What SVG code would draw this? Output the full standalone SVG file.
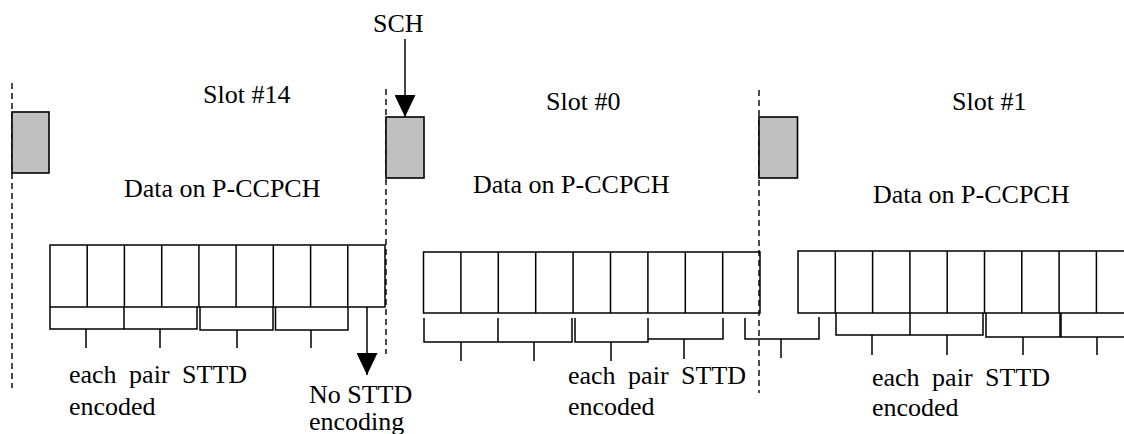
<svg xmlns="http://www.w3.org/2000/svg" width="1124" height="434" viewBox="0 0 1124 434">
<defs>
<style>
text{font-family:"Liberation Serif","Times New Roman",serif;font-size:26px;fill:#000}
.pair{word-spacing:6px}
.sch{fill:#c0c0c0;stroke:#000;stroke-width:1.6}
.cell{fill:none;stroke:#000;stroke-width:1.5}
.br{fill:none;stroke:#000;stroke-width:1.5}
.dash{stroke:#000;stroke-width:1.4;stroke-dasharray:6,4;fill:none}
.arr{stroke:#000;stroke-width:1.5;fill:none}
</style>
<marker id="ah" viewBox="0 0 22 21" refX="22" refY="10.5" markerWidth="22" markerHeight="21" markerUnits="userSpaceOnUse" orient="auto">
<path d="M0,0 L22,10.5 L0,21 Z" fill="#000"/>
</marker>
</defs>
<rect width="1124" height="434" fill="#fff"/>

<g id="slot-boundaries">
<line class="dash" x1="12" y1="83" x2="12" y2="388"/>
<line class="dash" x1="386" y1="89" x2="386" y2="354"/>
<line class="dash" x1="759" y1="90" x2="759" y2="393"/>
</g>

<g id="sch-box-14"><rect class="sch" x="12" y="112" width="37" height="61"/></g>
<g id="sch-box-0"><rect class="sch" x="386" y="117" width="38" height="61"/></g>
<g id="sch-box-1"><rect class="sch" x="759" y="117" width="38.5" height="61"/></g>

<g id="label-sch"><text x="373" y="32">SCH</text></g>

<g id="slot14">
<text x="203" y="103">Slot #14</text>
<text x="124" y="197">Data on P-CCPCH</text>
</g>
<g id="slot0">
<text x="546" y="110">Slot #0</text>
<text x="473" y="193">Data on P-CCPCH</text>
</g>
<g id="slot1">
<text x="952" y="110">Slot #1</text>
<text x="873" y="203">Data on P-CCPCH</text>
</g>

<g id="data-slot14">
<rect class="cell" x="50" y="245" width="335" height="62"/>
<path class="cell" d="M87.2,245V307M124.4,245V307M161.7,245V307M198.9,245V307M236.1,245V307M273.3,245V307M310.6,245V307M347.8,245V307"/>
</g>
<g id="data-slot0">
<rect class="cell" x="423.5" y="252" width="336.5" height="61"/>
<path class="cell" d="M460.9,252V313M498.3,252V313M535.7,252V313M573.1,252V313M610.5,252V313M647.9,252V313M685.3,252V313M722.7,252V313"/>
</g>
<g id="data-slot1">
<path class="cell" d="M1130,251H798V313H1130"/>
<path class="cell" d="M835.3,251V313M872.6,251V313M909.9,251V313M947.2,251V313M984.5,251V313M1021.8,251V313M1059.1,251V313M1096.4,251V313"/>
</g>

<g id="brackets-slot14">
<path class="br" d="M50,307V329H197V307M124,307V329"/>
<path class="br" d="M200,307V330H273V307"/>
<path class="br" d="M275.5,307V330H348V307"/>
<path class="br" d="M86,329V348M160,329V348M237,330V348M311,330V348"/>
</g>
<g id="brackets-slot0">
<path class="br" d="M424,318V342H572V318M498,318V342"/>
<path class="br" d="M575,318V342H648V318"/>
<path class="br" d="M648,339H723V318"/>
<path class="br" d="M461,342V361M534,342V361M611,342V361M684,339V359"/>
</g>
<g id="bracket-cross">
<path class="br" d="M745,318V339H819V317"/>
<path class="br" d="M781,339V358"/>
</g>
<g id="brackets-slot1">
<path class="br" d="M836,313V335H983V313M910,313V335"/>
<path class="br" d="M986,313V337H1060V313"/>
<path class="br" d="M1061,313V337H1130"/>
<path class="br" d="M872,335V355M947,335V355M1023,337V355M1097,337V355"/>
</g>

<g id="label-pair-14">
<text class="pair" x="69" y="383">each pair STTD</text>
<text x="69" y="415">encoded</text>
</g>
<g id="label-pair-0">
<text class="pair" x="568" y="384">each pair STTD</text>
<text x="568" y="415">encoded</text>
</g>
<g id="label-pair-1">
<text class="pair" x="872" y="386">each pair STTD</text>
<text x="872" y="416">encoded</text>
</g>
<g id="label-nostd">
<text x="309" y="403">No STTD</text>
<text x="309" y="430">encoding</text>
</g>

<g id="connectors">
<line class="arr" x1="405" y1="39" x2="405" y2="117" marker-end="url(#ah)"/>
<line class="arr" x1="367" y1="307" x2="367" y2="375" marker-end="url(#ah)"/>
</g>
</svg>
